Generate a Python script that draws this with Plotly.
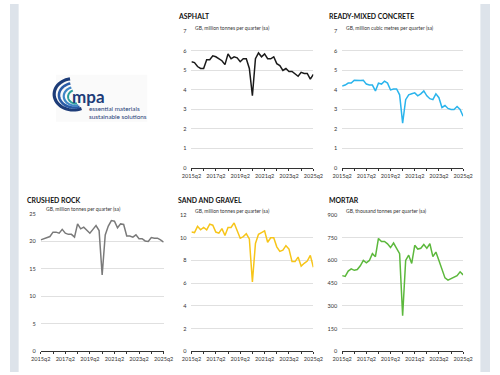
import math
import plotly.graph_objects as go

W, H = 500, 375

quarters = [f"{y}q{q}" for y in range(2015, 2026) for q in range(1, 5)][1:42]

asphalt = [5.45, 5.4, 5.2, 5.1, 5.1, 5.55, 5.55, 5.75, 5.7, 5.6, 5.5, 5.3, 5.85, 5.6, 5.7, 5.65,
           5.45, 5.6, 5.6, 5.1, 3.7, 5.6, 5.9, 5.7, 5.85, 5.6, 5.6, 5.7, 5.35, 5.25, 5.0, 5.1,
           4.95, 4.95, 4.8, 4.7, 4.9, 4.85, 4.85, 4.55, 4.8]
concrete = [4.2, 4.25, 4.35, 4.35, 4.5, 4.48, 4.48, 4.5, 4.3, 4.25, 4.25, 3.95, 4.35, 4.3, 4.45, 4.35,
            4.0, 4.05, 4.05, 3.75, 2.3, 3.5, 3.75, 3.8, 3.85, 3.7, 3.8, 3.95, 3.7, 3.55, 3.5, 3.8,
            3.6, 3.1, 3.2, 3.05, 3.0, 3.0, 3.15, 3.0, 2.65]
crushed = [20.3, 20.5, 20.7, 20.9, 21.7, 21.7, 21.5, 22.2, 21.5, 21.3, 21.3, 20.8, 23.2, 22.3, 22.6, 22.0,
           21.5, 22.2, 22.9, 22.0, 13.9, 21.2, 22.8, 23.8, 23.7, 22.5, 23.2, 23.1, 21.0, 21.0, 20.8, 21.2,
           20.5, 20.5, 20.1, 20.0, 20.7, 20.6, 20.6, 20.3, 19.9]
sand = [10.5, 10.45, 11.0, 10.7, 10.9, 10.7, 11.2, 11.1, 10.5, 10.4, 10.8, 10.2, 10.9, 10.9, 11.3, 10.6,
        9.95, 10.1, 10.35, 9.9, 6.1, 9.5, 10.3, 10.45, 10.6, 9.6, 10.0, 10.0, 9.2, 8.8, 8.9, 9.3,
        9.0, 7.9, 7.9, 8.3, 7.5, 7.75, 7.95, 8.45, 7.4]
mortar = [500, 495, 530, 545, 535, 540, 565, 600, 585, 600, 645, 625, 745, 725, 725, 710,
          685, 715, 680, 645, 235, 600, 635, 580, 700, 675, 680, 705, 680, 710, 625, 655,
          600, 545, 485, 470, 480, 490, 500, 525, 505]

titles = ["ASPHALT", "READY-MIXED CONCRETE", "CRUSHED ROCK", "SAND AND GRAVEL", "MORTAR"]
subtitles = ["GB, million tonnes per quarter (sa)", "GB, million cubic metres per quarter (sa)",
             "GB, million tonnes per quarter (sa)", "GB, million tonnes per quarter (sa)",
             "GB, thousand tonnes per quarter (sa)"]
series = [asphalt, concrete, crushed, sand, mortar]
colors = ["#1a1a1a", "#2ab4ec", "#7a7a7a", "#f7c519", "#5cb83c"]
yranges = [(0, 7, 1), (0, 7, 1), (0, 25, 5), (0, 12, 2), (0, 900, 150)]

# panel pixel boxes: x0, x1, ytop, ybottom, title x, title y, subtitle x, subtitle y
panels = [
    (189, 316, 28, 167, 173, 12, 191, 24),
    (346, 472, 28, 167, 330, 12, 348, 24),
    (32, 160, 214, 354, 16, 200, 35, 209),
    (189, 316, 215, 354, 173, 200, 191, 211),
    (346, 472, 215, 354, 330, 200, 348, 211),
]

FONT = "Lato"
fig = go.Figure()
tickvals = quarters[::4]
ticktext = [q if i % 2 == 0 else "" for i, q in enumerate(tickvals)]

for i, (vals, col, (y0, y1, dt), p) in enumerate(zip(series, colors, yranges, panels)):
    n = "" if i == 0 else str(i + 1)
    fig.add_trace(go.Scatter(x=quarters, y=vals, mode="lines",
                             line=dict(color=col, width=1.5),
                             xaxis="x" + n, yaxis="y" + n, showlegend=False,
                             hoverinfo="skip"))
    px0, px1, pt, pb, tx, ty, sx, sy = p
    fig.layout["xaxis" + n] = dict(
        domain=[px0 / W, px1 / W], anchor="y" + n, type="category",
        range=[0, len(quarters) - 1], tickmode="array", tickvals=tickvals, ticktext=ticktext,
        showline=True, linecolor="#333", linewidth=1, ticks="outside", ticklen=2,
        tickcolor="#333", showgrid=False, tickangle=0,
        tickfont=dict(family=FONT, size=5.6, color="#333"), fixedrange=True)
    fig.layout["yaxis" + n] = dict(
        domain=[1 - pb / H, 1 - pt / H], anchor="x" + n, range=[y0, y1], dtick=dt,
        tick0=0, showgrid=True, gridcolor="#e0e0e0", gridwidth=1, zeroline=False,
        showline=False, ticks="", ticklabelstandoff=4,
        tickfont=dict(family=FONT, size=5.6, color="#333"), fixedrange=True)
    fig.add_annotation(x=tx / W, y=1 - ty / H, xref="paper", yref="paper", text="<b>%s</b>" % titles[i],
                       showarrow=False, xanchor="left", yanchor="middle",
                       font=dict(family=FONT, size=6.9, color="#111"))
    fig.add_annotation(x=sx / W, y=1 - sy / H, xref="paper", yref="paper", text=subtitles[i],
                       showarrow=False, xanchor="left", yanchor="middle",
                       font=dict(family=FONT, size=5.0, color="#333"))

shapes = [
    dict(type="rect", xref="paper", yref="paper", x0=0, x1=9 / W, y0=0, y1=1,
         fillcolor="#dde3ea", line=dict(width=0), layer="below"),
    dict(type="rect", xref="paper", yref="paper", x0=490 / W, x1=1, y0=0, y1=1,
         fillcolor="#dde3ea", line=dict(width=0), layer="below"),
    dict(type="rect", xref="paper", yref="paper", x0=48 / W, x1=143 / W, y0=1 - 120 / H, y1=1 - 72 / H,
         fillcolor="#fafafa", line=dict(width=0), layer="below"),
]

# logo arcs (decoration)
def arc(cx, cy, rx, ry, a0, a1, steps=30):
    pts = []
    for k in range(steps + 1):
        a = math.radians(a0 + (a1 - a0) * k / steps)
        x = cx + rx * math.cos(a)
        y = cy - ry * math.sin(a)
        pts.append((x / W, 1 - y / H))
    return "M " + " L ".join(f"{x:.5f},{y:.5f}" for x, y in pts)

logo_arcs = [
    (66, 92, 20, 16, 100, 295, "#1d3c78", 3.2),
    (67, 93, 16, 12.5, 105, 290, "#2a5ba6", 2.6),
    (68, 94, 12, 9.5, 110, 285, "#3f86c6", 2.2),
    (69, 94.5, 8.5, 7, 115, 275, "#2a9e9b", 2.0),
]
for cx, cy, rx, ry, a0, a1, c, w in logo_arcs:
    shapes.append(dict(type="path", xref="paper", yref="paper", path=arc(cx, cy, rx, ry, a0, a1),
                       line=dict(color=c, width=w)))

fig.add_annotation(x=63 / W, y=1 - 94 / H, xref="paper", yref="paper", text="<b>mpa</b>",
                   showarrow=False, xanchor="left", yanchor="middle",
                   font=dict(family=FONT, size=17, color="#1d3c78"))
fig.add_annotation(x=80 / W, y=1 - 111 / H, xref="paper", yref="paper",
                   text="essential materials<br>sustainable solutions", align="left",
                   showarrow=False, xanchor="left", yanchor="middle",
                   font=dict(family=FONT, size=6.3, color="#1d3c78"))

fig.update_layout(width=W, height=H, margin=dict(l=0, r=0, t=0, b=0),
                  paper_bgcolor="white", plot_bgcolor="white", shapes=shapes,
                  font=dict(family=FONT))

fig.write_html("out.html", config={"displayModeBar": False},
               post_script="document.body.style.margin='0';document.body.style.padding='0';"
                           "document.body.style.overflow='hidden';")
